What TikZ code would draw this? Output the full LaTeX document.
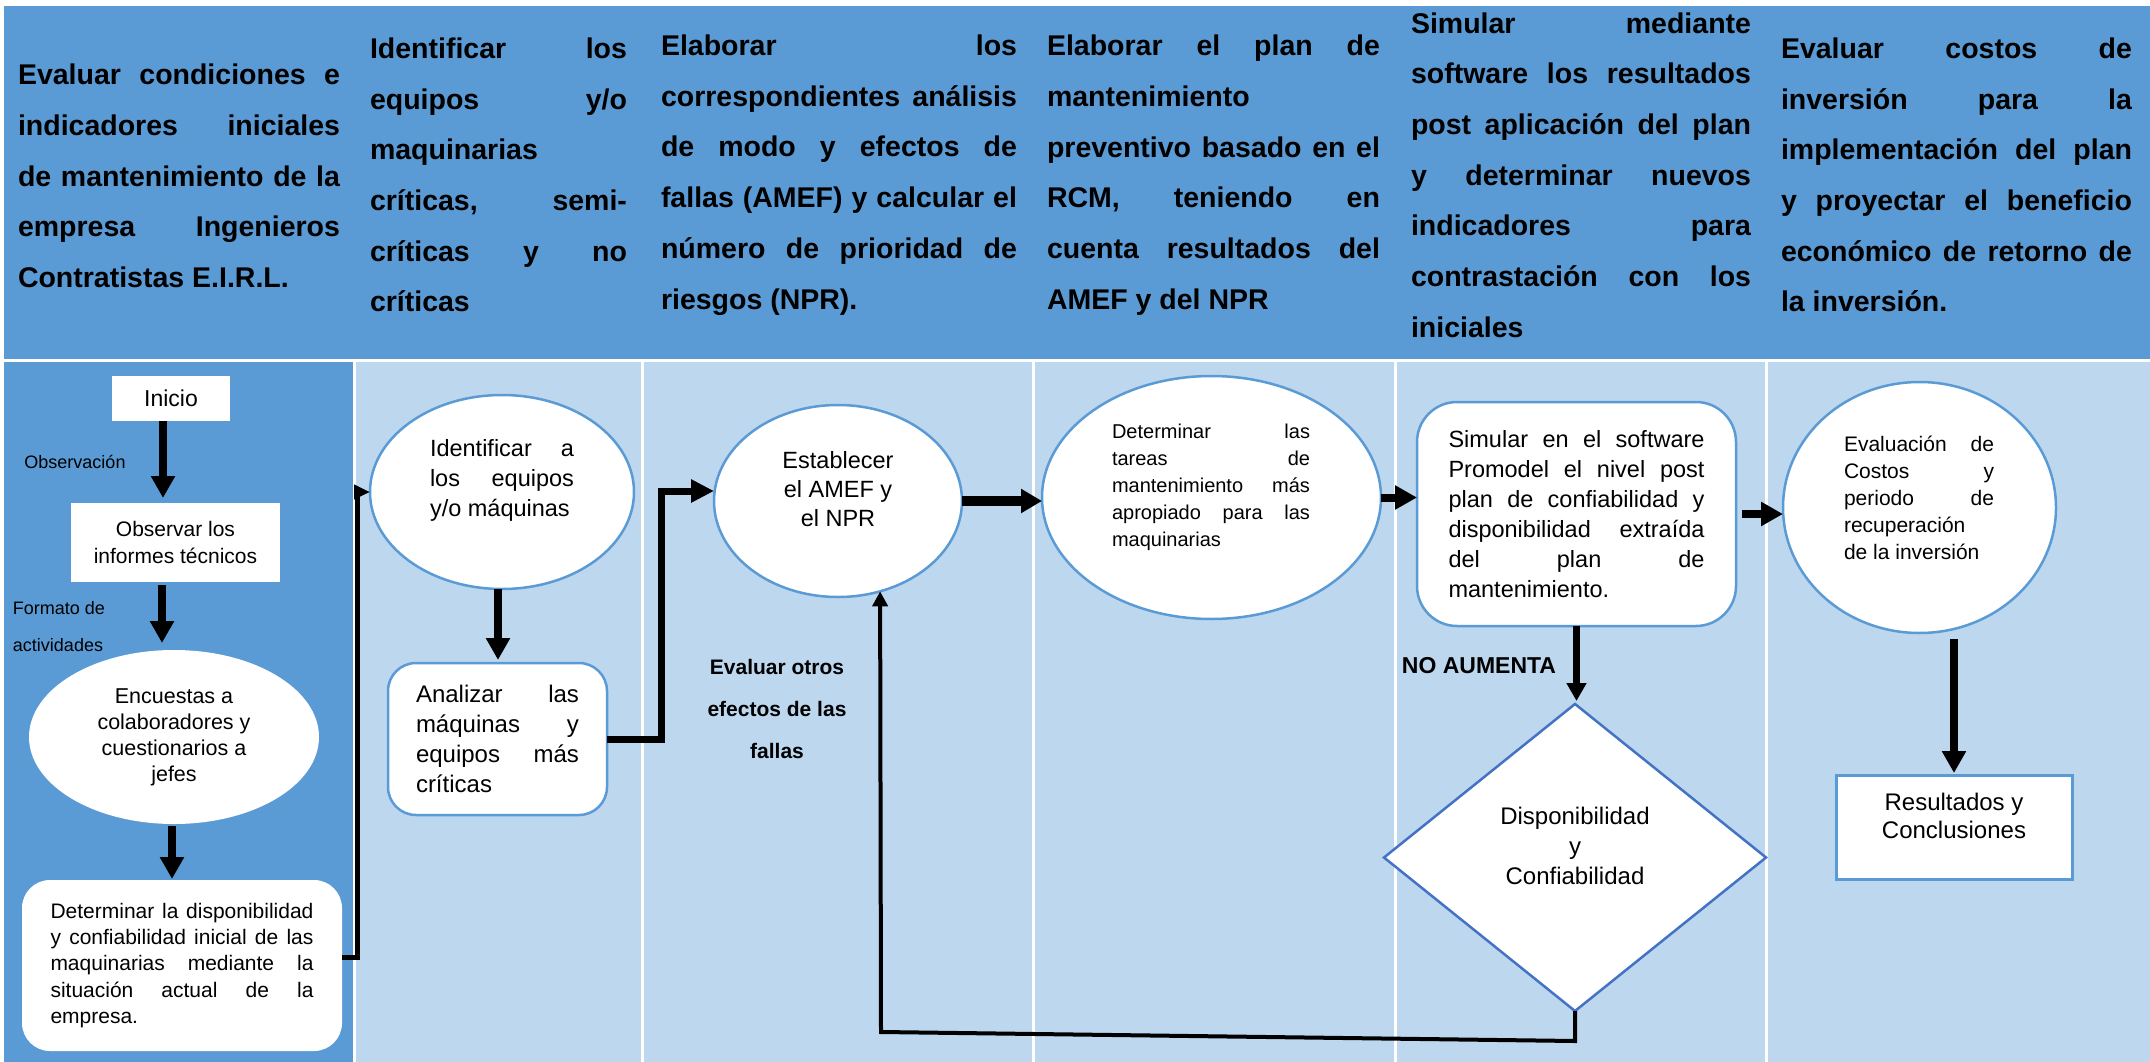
\documentclass[tikz,border=0pt]{standalone}
\usepackage{fontspec}
\setmainfont{Liberation Sans}
\usetikzlibrary{arrows.meta,shapes.geometric,calc}
\definecolor{hblue}{HTML}{5B9BD5}
\definecolor{lblue}{HTML}{BDD7EE}
\definecolor{dblue}{HTML}{4472C4}
\definecolor{bord}{HTML}{5B9BD5}
\newcommand\fs[2]{\fontsize{#1}{#2}\selectfont}
\newcommand\jset{\tolerance=10000 \hbadness=10000 \hyphenpenalty=10000 \relax}
\tikzset{
  every node/.style={inner sep=0pt, outer sep=0pt},
  hdr/.style={text width=#1, align=justify, font=\fs{28.5}{50.7}\bfseries\jset},
  wbox/.style={fill=white},
  bshape/.style={fill=white, draw=bord, line width=2.5pt},
  bigarrow/.style={line width=8pt, -{Triangle[width=23pt,length=22pt]}},
  wideshaft/.style={line width=10pt, -{Triangle[width=23pt,length=21pt]}},
  midarrow/.style={line width=7pt, -{Triangle[width=19pt,length=18pt]}},
  thinarr/.style={line width=5pt, -{Triangle[width=14pt,length=16pt]}},
  fbarr/.style={line width=4pt, -{Triangle[width=15pt,length=15pt]}},
}
\begin{document}
\begin{tikzpicture}[x=1pt,y=-1pt]
\useasboundingbox (0,0) rectangle (2150,1062);
\fill[white] (0,0) rectangle (2150,1062);
% header band
\fill[hblue] (4,6) rectangle (2150,359);
% body columns
\fill[hblue] (4,362) rectangle (353,1062);
\fill[lblue] (356,362) rectangle (641,1062);
\fill[lblue] (644,362) rectangle (1032,1062);
\fill[lblue] (1035,362) rectangle (1394,1062);
\fill[lblue] (1397,362) rectangle (1765,1062);
\fill[lblue] (1768,362) rectangle (2150,1062);

% header texts
\node[hdr=322pt] (h1) at (179,176) {Evaluar condiciones e\linebreak indicadores iniciales\linebreak de mantenimiento de la\linebreak empresa Ingenieros\linebreak Contratistas E.I.R.L.};
\node[hdr=257pt] (h2) at (498.5,175) {Identificar los\linebreak equipos y/o\linebreak maquinarias\linebreak críticas, semi-\linebreak críticas y no\linebreak críticas};
\node[hdr=356pt] (h3) at (839,175) {Elaborar los\linebreak correspondientes análisis\linebreak de modo y efectos de\linebreak fallas (AMEF) y calcular el\linebreak número de prioridad de\linebreak riesgos (NPR).};
\node[hdr=333pt] (h4) at (1213.5,175) {Elaborar el plan de\linebreak mantenimiento\linebreak preventivo basado en el\linebreak RCM, teniendo en\linebreak cuenta resultados del\linebreak AMEF y del NPR};
\node[hdr=340pt] (h5) at (1581,175) {Simular mediante\linebreak software los resultados\linebreak post aplicación del plan\linebreak y determinar nuevos\linebreak indicadores para\linebreak contrastación con los\linebreak iniciales};
\node[hdr=351pt] (h6) at (1956.5,175) {Evaluar costos de\linebreak inversión para la\linebreak implementación del plan\linebreak y proyectar el beneficio\linebreak económico de retorno de\linebreak la inversión.};

% column 1
\node[wbox, minimum width=118pt, minimum height=45pt, font=\fs{23}{28}] (inicio) at (171,398.5) {Inicio};
\node[font=\fs{18}{37}] (lobs) at (75,462) {Observación};
\node[wbox, minimum width=209pt, minimum height=79pt, align=center, font=\fs{21}{27}] (obs) at (175.5,542.5) {Observar los\\informes técnicos};
\node[font=\fs{18}{37}, align=left] (lfor) at (59,626.5) {Formato de\\actividades};
\node[wbox, ellipse, minimum width=290pt, minimum height=174pt, align=center, font=\fs{21.5}{26}] (enc) at (174,737) {Encuestas a\\colaboradores y\\cuestionarios a\\jefes};
\node[wbox, rounded corners=28pt, minimum width=320pt, minimum height=171pt, text width=263pt, align=justify, font=\fs{21}{26.2}\jset] (det1) at (182,965.5) {Determinar la disponibilidad\linebreak y confiabilidad inicial de las\linebreak maquinarias mediante la\linebreak situación actual de la\linebreak empresa.};

% column 2
\node[bshape, ellipse, minimum width=264pt, minimum height=194pt] (ident) at (502,492) {};
\node[text width=144pt, align=justify, font=\fs{23.5}{30}\jset] (identT) at (502,480) {Identificar a\linebreak los equipos\linebreak y/o máquinas};
\node[bshape, rounded corners=28pt, minimum width=219pt, minimum height=152pt, text width=163pt, align=justify, font=\fs{24}{30}\jset] (anal) at (497.5,739) {Analizar las\linebreak máquinas y\linebreak equipos más\linebreak críticas};

% column 3
\node[bshape, ellipse, minimum width=248pt, minimum height=192pt] (estab) at (838,501) {};
\node[align=center, font=\fs{23.5}{29}] (estabT) at (838,489) {Establecer\\el AMEF y\\el NPR};
\node[align=center, font=\fs{21}{42}\bfseries] (evo) at (777,709) {Evaluar otros\\efectos de las\\fallas};

% column 4
\node[bshape, ellipse, minimum width=339pt, minimum height=243pt] (det4) at (1211.5,497.5) {};
\node[text width=198pt, align=justify, font=\fs{20}{27}\jset] (det4T) at (1211,487.5) {Determinar las\linebreak tareas de\linebreak mantenimiento más\linebreak apropiado para las\linebreak maquinarias};

% column 5
\node[bshape, rounded corners=40pt, minimum width=319pt, minimum height=224pt, text width=256pt, align=justify, font=\fs{23.5}{30}\jset] (simb) at (1576.5,514) {Simular en el software\linebreak Promodel el nivel post\linebreak plan de confiabilidad y\linebreak disponibilidad extraída\linebreak del plan de\linebreak mantenimiento.};
\node[font=\fs{23}{28}\bfseries] (noa) at (1479,666) {NO AUMENTA};
\node[fill=white, draw=dblue, line width=2.5pt, diamond, minimum width=382pt, minimum height=307pt] (diam) at (1575,857.5) {};
\node[align=center, font=\fs{24}{30}] (diamT) at (1575,846) {Disponibilidad\\y\\Confiabilidad};

% column 6
\node[bshape, ellipse, minimum width=273pt, minimum height=251pt] (evalc) at (1919.5,507.5) {};
\node[text width=150pt, align=justify, font=\fs{21}{27}\jset] (evalT) at (1919,497.5) {Evaluación de\linebreak Costos y\linebreak periodo de\linebreak recuperación\linebreak de la inversión};
\node[fill=white, draw=bord, line width=3pt, minimum width=236pt, minimum height=104pt] (result) at (1954,827) {};
\node[align=center, font=\fs{24}{28}] (resultT) at (1954,816) {Resultados y\\Conclusiones};

% connectors
\draw[bigarrow] ([xshift=-8pt]inicio.south) -- ([xshift=-12.5pt,yshift=5pt]obs.north);
\draw[bigarrow] ([xshift=-13.5pt,yshift=-3pt]obs.south) -- ([xshift=-12pt,yshift=7pt]enc.north);
\draw[bigarrow] ([xshift=-2pt,yshift=-2pt]enc.south) -- ([xshift=-10pt,yshift=1pt]det1.north);
\draw[thinarr] ([yshift=8.5pt]det1.east) -- ++(15,0) |- (ident.west);
\coordinate (a5) at (ident.south |- anal.north);
\draw[bigarrow] ([xshift=-4pt]ident.south) -- ([xshift=-4pt,yshift=3pt]a5);
\draw[line width=7pt, -{Triangle[width=22pt,length=23pt]}] (anal.east) -- ++(54,0) |- ([yshift=10pt]estab.west);
\draw[wideshaft] (estab.east) -- (estab.east -| det4.west);
\draw[bigarrow] (det4.east) -- (det4.east -| simb.west);
\draw[bigarrow, shorten <=6pt] (simb.east) -- (simb.east -| evalc.west);
\coordinate (a10) at (simb.south |- diam.north);
\draw[midarrow] (simb.south) -- ([yshift=3pt]a10);
\draw[fbarr] (diam.south) -- ++(0,30) -- ++(-694,-9) -- (estab.-65);
\coordinate (a12) at (result.north |- evalc.south);
\draw[bigarrow] ([yshift=-6pt]a12) -- ([yshift=2pt]result.north);
\end{tikzpicture}
\end{document}
